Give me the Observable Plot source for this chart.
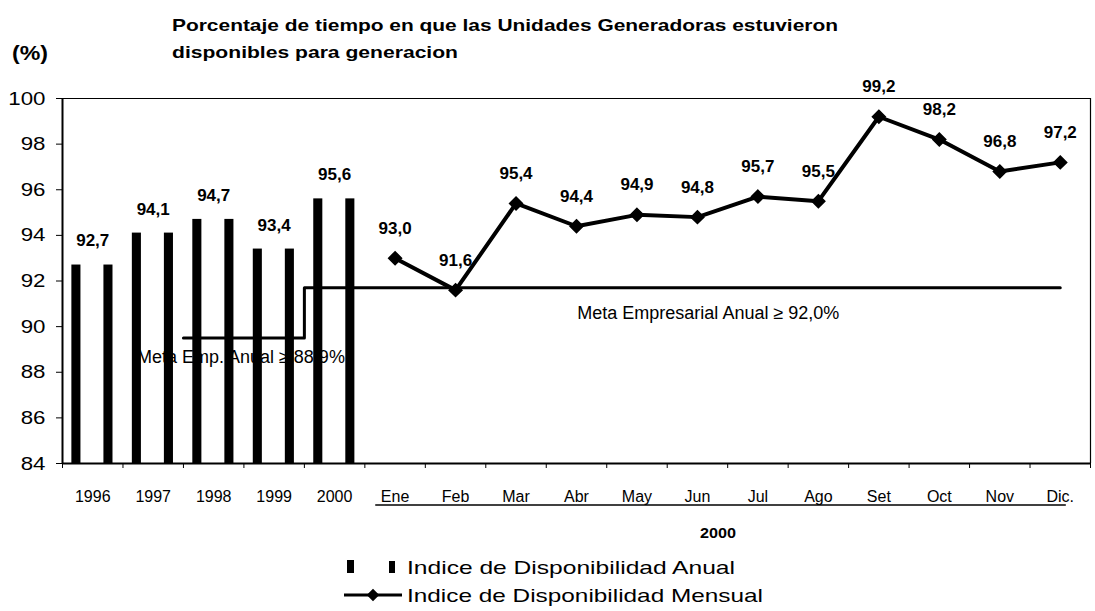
<!DOCTYPE html>
<html>
<head>
<meta charset="utf-8">
<script src="https://cdn.jsdelivr.net/npm/d3@7"></script>
<script src="https://cdn.jsdelivr.net/npm/@observablehq/plot@0.6"></script>
<style>
  body { margin: 0; background: #fff; font-family: "Liberation Sans", Arial, sans-serif; }
  #wrap { position: relative; width: 1095px; height: 611px; overflow: hidden; }
  #wrap svg { position: absolute; left: 0; top: 0; }
</style>
</head>
<body>
<div id="wrap"></div>
<script>
// ---- data ----
const years = ["1996", "1997", "1998", "1999", "2000"];
const annual = [92.7, 94.1, 94.7, 93.4, 95.6];
const months = ["Ene", "Feb", "Mar", "Abr", "May", "Jun", "Jul", "Ago", "Set", "Oct", "Nov", "Dic."];
const monthly = [93.0, 91.6, 95.4, 94.4, 94.9, 94.8, 95.7, 95.5, 99.2, 98.2, 96.8, 97.2];
const yTicks = [84, 86, 88, 90, 92, 94, 96, 98, 100];
const metaLabels = ["Meta Emp. Anual \u2265 88,9%", "Meta Empresarial Anual \u2265 92,0%"];
const metaLevels = [89.5, 91.7]; // plotted level of each target line
const titleLines = ["Porcentaje de tiempo en que las Unidades Generadoras estuvieron", "disponibles para generacion"];
const yUnit = "(%)";
const xGroupLabel = "2000";
const legendLabels = ["Indice de Disponibilidad Anual", "Indice de Disponibilidad Mensual"];

// ---- derived tables ----
const categories = [...years, ...months];
const fmt = v => d3.format(".1f")(v).replace(".", ",");
const nYears = years.length;
const barData = years.flatMap((y, i) => [
  {i, v: annual[i], off: 0.23},
  {i, v: annual[i], off: 0.76}
]);
const lineData = months.map((m, k) => ({i: nYears + k, v: monthly[k]}));
const i1998 = years.indexOf("1998"), i2000 = years.indexOf("2000");
const iDic = categories.indexOf("Dic.");
const metaLine = [
  {x: i1998, y: metaLevels[0]},
  {x: i2000, y: metaLevels[0]},
  {x: i2000, y: metaLevels[1]},
  {x: iDic + 0.5, y: metaLevels[1]}
];
const metaText = [
  {x: i1998 + 0.95, y: metaLevels[0] - 0.85, t: metaLabels[0]},
  {x: (i2000 + iDic) / 2 + 0.68, y: metaLevels[1] - 1.1, t: metaLabels[1]}
];
const bw = 0.075;

const chart = Plot.plot({
  width: 1095,
  height: 611,
  marginLeft: 62,
  marginRight: 5,
  marginTop: 98,
  marginBottom: 148,
  style: {fontFamily: "'Liberation Sans', Arial, sans-serif", background: "transparent", color: "#000"},
  x: {type: "linear", domain: [0, categories.length]},
  y: {domain: [84, 100]},
  marks: [
    Plot.text(metaText, {x: "x", y: "y", text: "t", fontSize: 18, fill: "#000", ariaLabel: "meta-label"}),
    Plot.ruleY([100], {stroke: "#000", strokeWidth: 1.2}),
    Plot.ruleX([categories.length], {y1: 84, y2: 100, stroke: "#000", strokeWidth: 1.2}),
    Plot.rectY(barData, {x1: d => d.i + d.off - bw, x2: d => d.i + d.off + bw, y1: 84, y2: "v", fill: "#000"}),
    Plot.text(annual, {x: (d, i) => i + 0.5, y: d => d, text: d => fmt(d), dy: -24, fontSize: 17, fontWeight: "bold", fill: "#000", ariaLabel: "value-label"}),
    Plot.line(metaLine, {x: "x", y: "y", stroke: "#000", strokeWidth: 3}),
    Plot.line(lineData, {x: d => d.i + 0.5, y: "v", stroke: "#000", strokeWidth: 4}),
    Plot.dot(lineData, {x: d => d.i + 0.5, y: "v", symbol: "diamond2", r: 5.8, fill: "#000", stroke: "#000"}),
    Plot.text(lineData, {x: d => d.i + 0.5, y: "v", text: d => fmt(d.v), dy: -30, fontSize: 17, fontWeight: "bold", fill: "#000", ariaLabel: "value-label"}),
    Plot.axisY({ticks: yTicks, tickSize: 6, tickPadding: 11, fontSize: 19, label: null, tickFormat: d => String(d)}),
    Plot.ruleX([0], {y1: 84, y2: 100, stroke: "#000", strokeWidth: 2}),
    Plot.ruleY([84], {stroke: "#000", strokeWidth: 2}),
    Plot.axisX({ticks: d3.range(categories.length + 1), tickSize: 5, tickFormat: () => "", label: null}),
    Plot.axisX({ticks: d3.range(categories.length).map(i => i + 0.5), tickSize: 0, tickPadding: 27,
      tickFormat: d => categories[Math.floor(d)], fontSize: 16, label: null}),
    Plot.ruleY([82.18], {x1: nYears + 0.18, x2: iDic + 0.6, stroke: "#000", strokeWidth: 1.5})
  ]
});
document.getElementById("wrap").append(chart);

// widen text to match the reference's stretched lettering
const sel = d3.select(chart);
sel.selectAll('g[aria-label="y-axis tick label"] text').each(function () {
  const n = this.textContent.length;
  this.setAttribute("textLength", 12.4 * n);
  this.setAttribute("lengthAdjust", "spacingAndGlyphs");
});
sel.selectAll('g[aria-label="value-label"] text').style("letter-spacing", "1.3px");
const metaWidths = [245, 280];
sel.selectAll('g[aria-label="meta-label"] text').each(function (d, k) {
  this.setAttribute("textLength", metaWidths[k]);
  this.setAttribute("lengthAdjust", "spacingAndGlyphs");
});

// ---- titles and legend overlay ----
const ov = d3.select("#wrap").append("svg").attr("width", 1095).attr("height", 611)
  .style("font-family", "'Liberation Sans', Arial, sans-serif");
function txt(x, y, s, size, weight, len, anchor) {
  const t = ov.append("text").attr("x", x).attr("y", y).attr("font-size", size)
    .attr("font-weight", weight).attr("fill", "#000").text(s);
  if (len) t.attr("textLength", len).attr("lengthAdjust", "spacingAndGlyphs");
  if (anchor) t.attr("text-anchor", anchor);
  return t;
}
txt(172, 31, titleLines[0], 17, "bold", 666);
txt(172, 58, titleLines[1], 17, "bold", 286);
txt(12, 60, yUnit, 20, "bold", 36);
txt(718, 538, xGroupLabel, 15, "bold", 36, "middle");

ov.append("rect").attr("x", 347).attr("y", 560).attr("width", 7).attr("height", 13).attr("fill", "#000");
ov.append("rect").attr("x", 389).attr("y", 561).attr("width", 6).attr("height", 12).attr("fill", "#000");
ov.append("line").attr("x1", 344).attr("x2", 402).attr("y1", 595).attr("y2", 595).attr("stroke", "#000").attr("stroke-width", 3);
ov.append("path").attr("d", d3.symbol(d3.symbolDiamond2, 100)()).attr("transform", "translate(373,595)").attr("fill", "#000");
txt(407, 574, legendLabels[0], 19, "normal", 328);
txt(407, 602, legendLabels[1], 19, "normal", 356);
</script>
</body>
</html>
